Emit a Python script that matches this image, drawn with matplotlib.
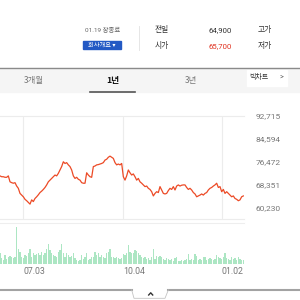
import matplotlib
matplotlib.use("Agg")
import matplotlib.pyplot as plt
from matplotlib.patches import Rectangle
from matplotlib.lines import Line2D
import numpy as np

# ---- data ----
price = [
    71500, 71200, 71200, 71000, 71000, 71500, 69400, 69100, 68900, 69100,
    67900, 67100, 65300, 64700, 64100, 63200, 62700, 62100, 61500, 63000,
    62400, 63500, 64100, 64800, 65600, 66100, 66700, 67400, 68300, 69400,
    70000, 70600, 71200, 71800, 71500, 72400, 73600, 74800, 76500,
    75900, 76200, 75400, 74800, 73600, 71500, 70600, 71000, 70300, 70000,
    69100, 68900, 68900, 72600, 71800, 71200, 71000, 74800, 75000, 75400,
    75500, 75700, 75900, 76200, 77100, 77400, 78100, 78500, 78100, 77700,
    76200, 75400, 75700, 75400, 75900, 71200,
    70000, 71500, 73600, 72600, 71800, 72200, 71200, 70000, 70600, 69400,
    68900, 68300, 67700, 67900, 67100, 66700, 65900, 64400, 65300, 65900,
    65600, 67700, 66500, 65300, 65100, 65300, 66300, 67100, 66700, 67700,
    66500, 67900, 68300,
    67900, 68200, 68300, 68300, 67400, 66700, 67100, 66500, 65600, 65100,
    64100, 64400, 64700, 65100, 64700, 65300, 65600, 66500, 67100, 67400,
    67900, 68300, 68900, 67400, 67700, 65900, 66700, 65300, 65900, 65300,
    64700, 64100, 64400, 63500, 63200, 62700, 63000, 64100, 64400,
]

volume = [
    320, 150, 100, 250, 120, 200, 220, 180, 150, 200,
    1100, 420, 350, 180, 150, 250, 220, 300, 420, 200,
    300, 250, 280, 300, 250, 350, 250, 300, 420, 580,
    400, 300, 250, 220, 200, 350, 400, 580, 300, 200,
    300, 250, 180, 220, 300, 150, 100, 80, 100, 250,
    120, 180, 300, 100, 120, 200, 180, 350, 250, 320,
    200, 250, 180, 150, 320, 350, 420, 200, 180, 150,
    180, 150, 120, 150, 280,
    250, 300, 550, 350, 300, 320, 400, 380, 300, 250,
    200, 150, 180, 120, 150, 100, 180, 420, 120, 220,
    200, 220, 180, 120, 100, 150, 120, 100, 120, 80,
    150, 180, 80, 80, 100, 80, 100, 120, 280, 100,
    120, 100, 280, 220, 100, 120, 100, 200, 180, 100,
    120, 150, 120, 100, 120, 250, 200, 150, 120, 180,
    300, 150, 120, 100, 180, 120, 150, 100, 180, 120,
    100, 100,
]

y_ticks = [60230, 68351, 76472, 84594, 92715]
date_tick_idx = [14, 74, 133]
date_labels = ["07.03", "10.04", "01.02"]

header_prev_label = "전일"
header_prev_value = "64,900"
header_open_label = "시가"
header_open_value = "65,700"
tabs = ["3개월", "1년", "3년"]

# ---- figure ----
W = H = 300
fig = plt.figure(figsize=(3, 3), dpi=100)
fig.patch.set_facecolor("white")


def fx(x):
    return x / W


def fy(y):
    return 1 - y / H


KR = ["Noto Sans CJK KR", "DejaVu Sans"]
RB = ["Roboto", "Noto Sans CJK KR", "DejaVu Sans"]

n = len(price)
x = np.arange(n)
xmax = n - 1 + 0.1

# price panel
ax = fig.add_axes([0, fy(219), fx(243.5), (219 - 116) / H])
ax.plot(x, price, color="#ec4a26", lw=0.9, solid_joinstyle="round")
ax.set_xlim(0, xmax)
ppx = (92715 - 60230) / (207.7 - 116)
ax.set_ylim(92715 - (219 - 116) * ppx, 92715)
ax.set_yticks(y_ticks)
ax.set_yticklabels([f"{v:,}" for v in y_ticks], fontsize=6, color="#777777",
                   family=RB)
ax.yaxis.tick_right()
ax.tick_params(axis="y", length=0, pad=9)
ax.set_xticks(date_tick_idx)
ax.tick_params(axis="x", length=0, labelbottom=False)
ax.grid(axis="x", color="#ececec", lw=0.8)
for s in ["left", "right"]:
    ax.spines[s].set_visible(False)
for s in ["top", "bottom"]:
    ax.spines[s].set_color("#ececec")
    ax.spines[s].set_linewidth(0.8)
ax.set_facecolor("none")

# volume panel
vax = fig.add_axes([0, fy(263.5), fx(243.5), (263.5 - 223.3) / H])
vax.bar(x, volume, width=0.8, color="#ace6c3", edgecolor="none")
vax.set_xlim(0, xmax)
vax.set_ylim(0, 1100 * (263.5 - 223.3) / (263.5 - 226.7))
vax.set_yticks([])
vax.set_xticks(date_tick_idx)
vax.set_xticklabels(date_labels, fontsize=6.3, color="#777777", family=RB,
                    ha="left")
vax.tick_params(axis="x", length=0, pad=2.2)
for s in ["left", "right", "bottom"]:
    vax.spines[s].set_visible(False)
vax.spines["top"].set_color("#eeeeee")
vax.spines["top"].set_linewidth(0.8)
vax.set_facecolor("none")

# ---- header ----
fig.text(fx(85), fy(30), "01.19 장종료", fontsize=4.6, color="#666666",
         family=RB, va="center", ha="left")
fig.patches.append(Rectangle((fx(83.3), fy(49)), (120.7 - 83.3) / W, 8.3 / H,
                             transform=fig.transFigure, color="#2359c4",
                             zorder=1))
fig.text(fx(102), fy(44.8), "회사개요 ▾", fontsize=4.5, color="white",
         family=KR, va="center", ha="center", zorder=2)
fig.add_artist(Line2D([fx(138.7), fx(138.7)], [fy(26), fy(50)],
                      color="#e6e6e6", lw=0.7))

for (lbl, val, yy, vcol) in [(header_prev_label, header_prev_value, 30, "#333333"),
                             (header_open_label, header_open_value, 46, "#e0301e")]:
    fig.text(fx(155), fy(yy), lbl, fontsize=5.6, color="#333333", family=KR,
             va="center", ha="left")
    fig.text(fx(232), fy(yy), val, fontsize=5.6, color=vcol, family=RB,
             va="center", ha="right")
fig.text(fx(258), fy(30), "고가", fontsize=5.6, color="#333333", family=KR,
         va="center", ha="left")
fig.text(fx(258), fy(46), "저가", fontsize=5.6, color="#333333", family=KR,
         va="center", ha="left")

# ---- tab bar ----
fig.patches.append(Rectangle((0, fy(92)), 1, (92 - 68) / H,
                             transform=fig.transFigure, color="#f5f5f5",
                             zorder=0))
fig.add_artist(Line2D([0, 1], [fy(67.8), fy(67.8)], color="#8a8a8a", lw=1.0))
fig.add_artist(Line2D([fx(90), fx(135)], [fy(92), fy(92)], color="#555555",
                      lw=1.2))
fig.text(fx(34), fy(80.5), tabs[0], fontsize=6.0, color="#777777", family=KR,
         va="center", ha="center")
fig.text(fx(112.5), fy(80.5), tabs[1], fontsize=6.3, color="#111111",
         family=KR, weight="bold", va="center", ha="center")
fig.text(fx(191), fy(80.5), tabs[2], fontsize=6.0, color="#777777", family=KR,
         va="center", ha="center")
fig.patches.append(Rectangle((fx(247), fy(86)), 40 / W, 16 / H,
                             transform=fig.transFigure, color="white",
                             zorder=1))
fig.text(fx(249.5), fy(77.5), "빅차트", fontsize=5.0, color="#333333",
         family=KR, va="center", ha="left", zorder=2)
fig.text(fx(279), fy(77.5), ">", fontsize=5.0, color="#555555",
         family=RB, va="center", ha="left", zorder=2)

# ---- bottom handle ----
fig.add_artist(Line2D([0, fx(131.7)], [fy(290), fy(290)], color="#a3a3a3",
                      lw=1.5))
fig.add_artist(Line2D([fx(168.3), 1], [fy(290), fy(290)], color="#a3a3a3",
                      lw=1.5))
fig.add_artist(Line2D([fx(131.7), fx(134), fx(165), fx(168.3)],
                      [fy(290), fy(298.3), fy(298.3), fy(290)],
                      color="#c4c4c4", lw=0.6))
fig.add_artist(Line2D([fx(148.7), fx(150.7), fx(152.7)],
                      [fy(295), fy(292.8), fy(295)], color="#333333", lw=1.0))

fig.savefig("out.png", dpi=100)
